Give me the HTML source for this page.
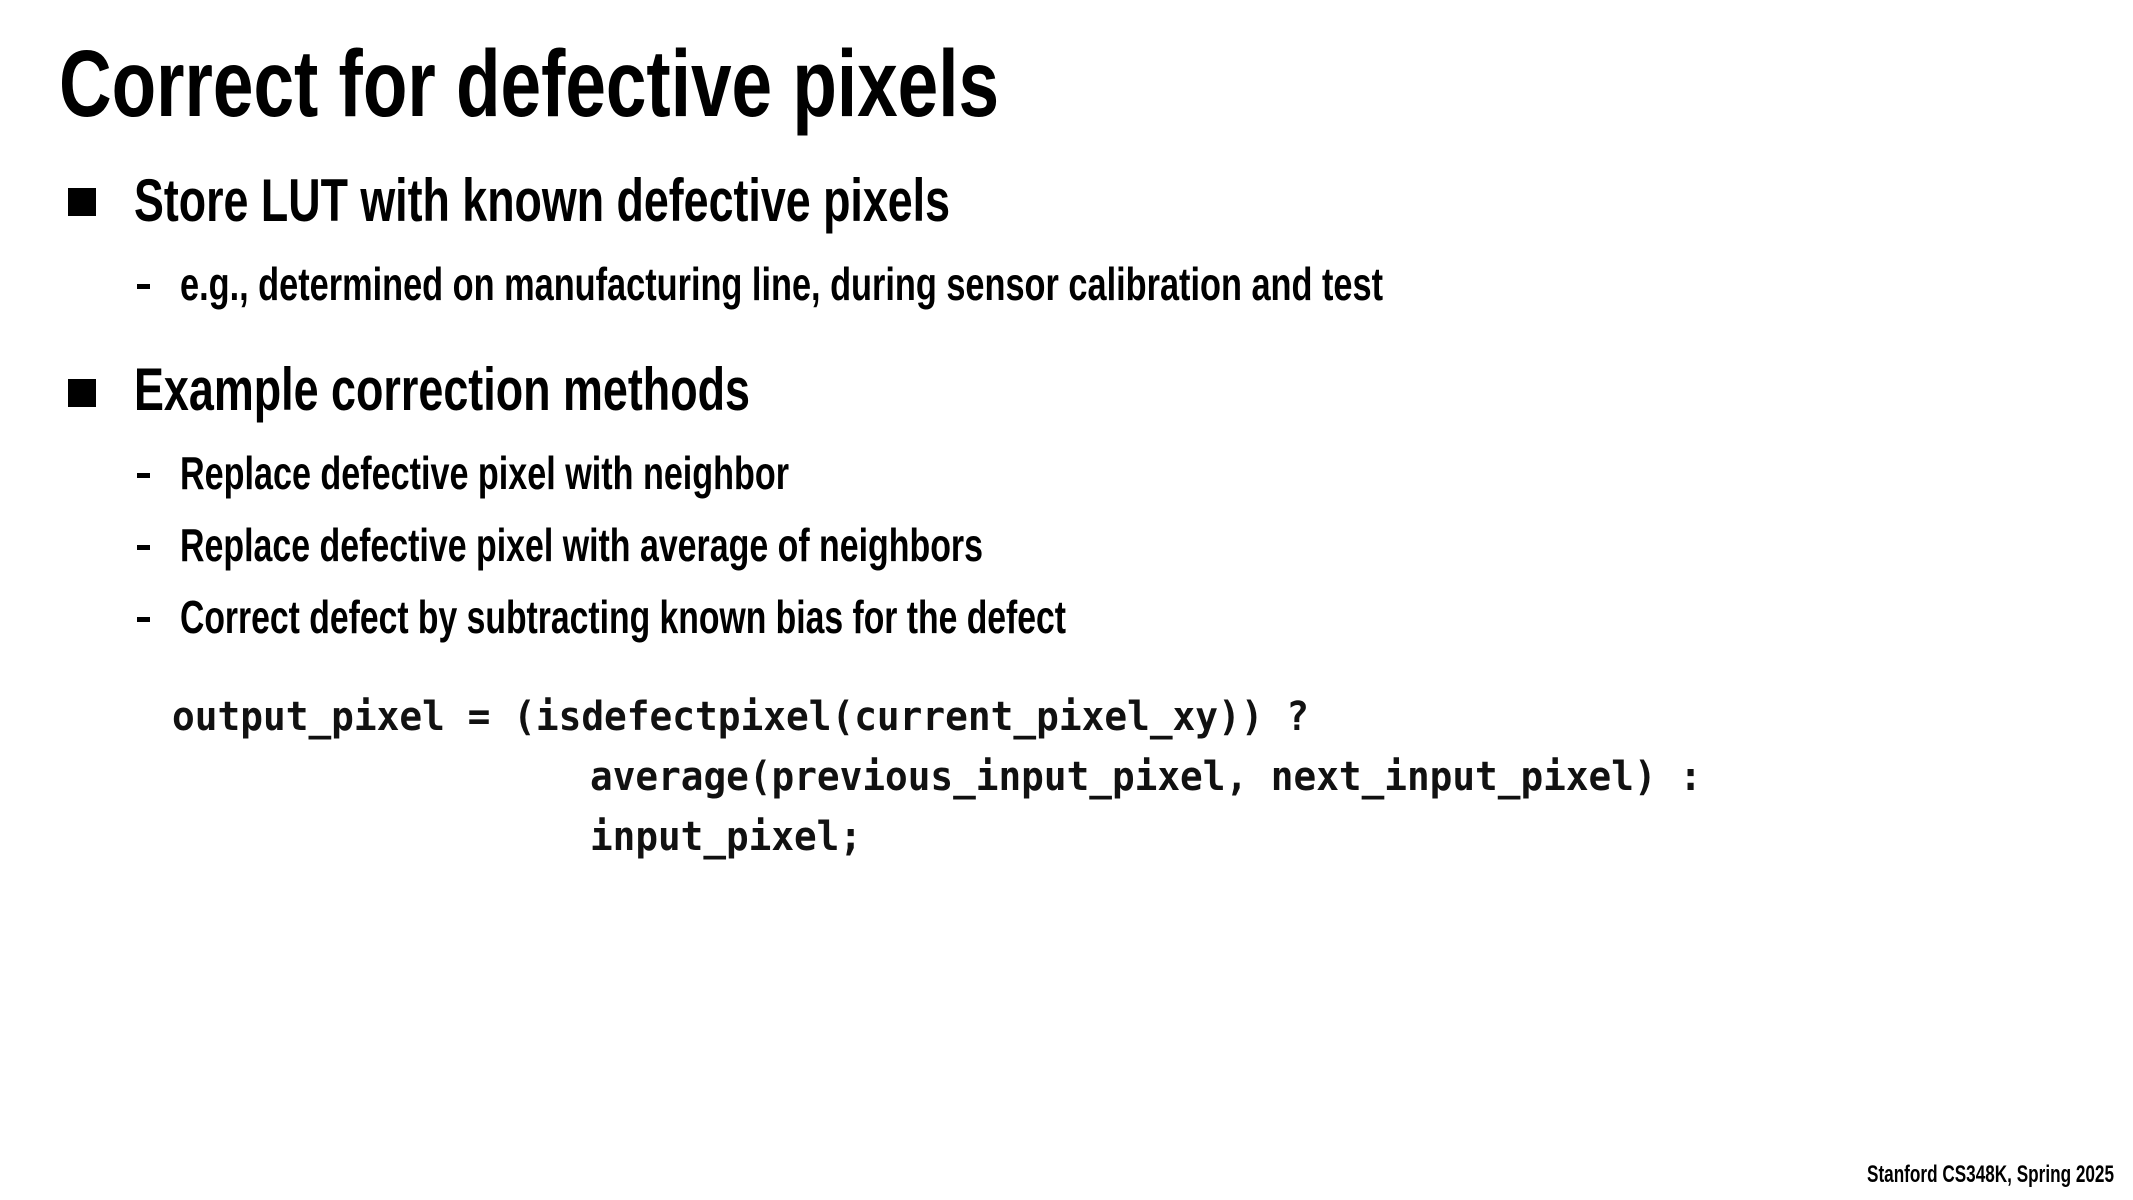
<!DOCTYPE html>
<html><head><meta charset="utf-8"><style>
html,body{margin:0;padding:0;background:#fff;}
svg{display:block;}
.t{font-family:"Liberation Sans",sans-serif;font-weight:bold;fill:#000;}
.m{font-family:"DejaVu Sans Mono","Liberation Mono",monospace;font-weight:bold;fill:#111;}
</style></head><body>
<svg width="2133" height="1200" viewBox="0 0 2133 1200" xmlns="http://www.w3.org/2000/svg">
<rect width="2133" height="1200" fill="#fff"/>
<text class="t" x="59" y="116" font-size="95" textLength="940" lengthAdjust="spacingAndGlyphs">Correct for defective pixels</text>
<rect x="68" y="188" width="28" height="28" fill="#000"/>
<text class="t" x="134" y="221" font-size="60" textLength="816" lengthAdjust="spacingAndGlyphs">Store LUT with known defective pixels</text>
<rect x="137" y="284" width="13" height="5" fill="#000"/>
<text class="t" x="180" y="300" font-size="46" textLength="1203" lengthAdjust="spacingAndGlyphs">e.g., determined on manufacturing line, during sensor calibration and test</text>
<rect x="68" y="379" width="28" height="28" fill="#000"/>
<text class="t" x="134" y="410" font-size="60" textLength="616" lengthAdjust="spacingAndGlyphs">Example correction methods</text>
<rect x="137" y="473" width="13" height="5" fill="#000"/>
<text class="t" x="180" y="489" font-size="46" textLength="609" lengthAdjust="spacingAndGlyphs">Replace defective pixel with neighbor</text>
<rect x="137" y="545" width="13" height="5" fill="#000"/>
<text class="t" x="180" y="561" font-size="46" textLength="803" lengthAdjust="spacingAndGlyphs">Replace defective pixel with average of neighbors</text>
<rect x="137" y="617" width="13" height="5" fill="#000"/>
<text class="t" x="180" y="633" font-size="46" textLength="886" lengthAdjust="spacingAndGlyphs">Correct defect by subtracting known bias for the defect</text>
<text class="m" x="172" y="730" font-size="40" textLength="1137" lengthAdjust="spacingAndGlyphs">output_pixel = (isdefectpixel(current_pixel_xy)) ?</text>
<text class="m" x="590" y="790" font-size="40" textLength="1112" lengthAdjust="spacingAndGlyphs">average(previous_input_pixel, next_input_pixel) :</text>
<text class="m" x="590" y="850" font-size="40" textLength="272" lengthAdjust="spacingAndGlyphs">input_pixel;</text>
<text class="t" x="1867" y="1182" font-size="24" textLength="247" lengthAdjust="spacingAndGlyphs">Stanford CS348K, Spring 2025</text>
</svg>
</body></html>
